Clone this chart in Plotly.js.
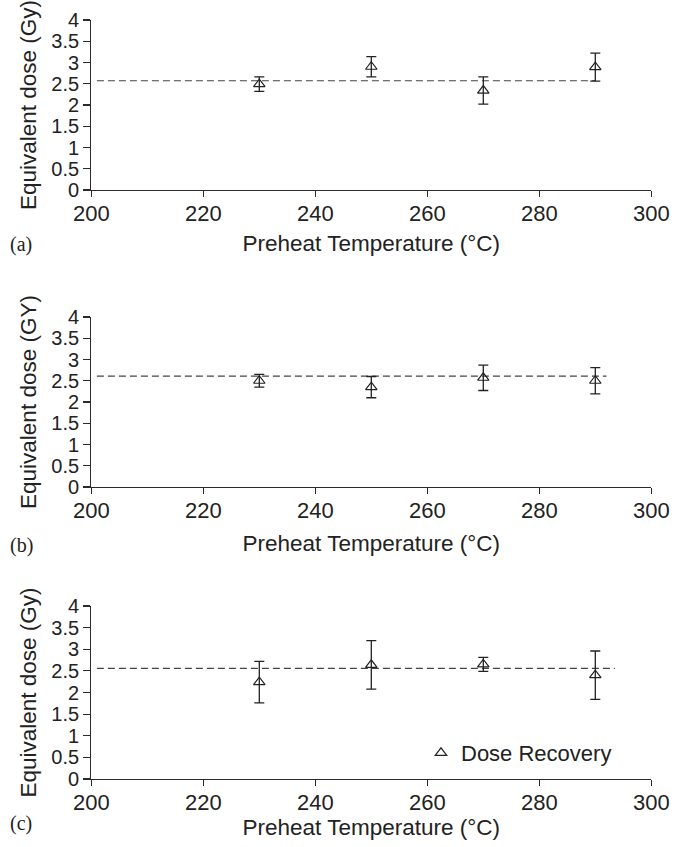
<!DOCTYPE html>
<html>
<head>
<meta charset="utf-8">
<script src="https://cdn.plot.ly/plotly-3.0.1.min.js"></script>
<style>
  html, body { margin: 0; padding: 0; background: #fff; }
  #chart { width: 687px; height: 847px; }
</style>
</head>
<body>
<div id="chart"></div>
<script>
// ---- Data ----
const temperatures = [230, 250, 270, 290];

const doseA = [2.49, 2.90, 2.34, 2.89];
const errA  = [0.17, 0.24, 0.32, 0.33];
const refA  = 2.57;
const refXA = [201, 290];

const doseB = [2.50, 2.35, 2.57, 2.50];
const errB  = [0.15, 0.25, 0.30, 0.31];
const refB  = 2.61;
const refXB = [201, 292];

const doseC = [2.24, 2.64, 2.65, 2.40];
const errC  = [0.48, 0.56, 0.16, 0.56];
const refC  = 2.56;
const refXC = [201, 293.5];

const panelLabels = ['(a)', '(b)', '(c)'];
const yTitles = ['Equivalent dose (Gy)', 'Equivalent dose (GY)', 'Equivalent dose (Gy)'];
const xTitle = 'Preheat Temperature (°C)';
const seriesName = 'Dose Recovery';

// ---- Styling ----
const W = 687, H = 847;
const axisColor = '#2b2b2b';
const font = 'Arial, "Liberation Sans", Helvetica, sans-serif';
const xDom = [91.3 / W, 651.3 / W];
const panelsPx = [[20, 190], [317, 487], [606, 779]]; // top, bottom in px
const yDoms = panelsPx.map(p => [1 - p[1] / H, 1 - p[0] / H]);
const xStandoffs = [10, 13, 0];
const labelY = [245, 545, 823];

const datasets = [
  {dose: doseA, err: errA, ref: refA, refX: refXA},
  {dose: doseB, err: errB, ref: refB, refX: refXB},
  {dose: doseC, err: errC, ref: refC, refX: refXC}
];

const traces = [];
datasets.forEach((d, i) => {
  const xa = i === 0 ? 'x' : 'x' + (i + 1);
  const ya = i === 0 ? 'y' : 'y' + (i + 1);
  traces.push({
    type: 'scatter', mode: 'lines',
    x: d.refX, y: d.refX.map(() => d.ref),
    xaxis: xa, yaxis: ya,
    line: {color: '#444', width: 1.2, dash: '7px,4px'},
    showlegend: false, hoverinfo: 'skip'
  });
  traces.push({
    type: 'scatter', mode: 'markers',
    name: seriesName,
    x: temperatures, y: d.dose,
    xaxis: xa, yaxis: ya,
    marker: {symbol: 'triangle-up-open', size: 10, color: '#222', line: {width: 1.2, color: '#222'}},
    error_y: {type: 'data', array: d.err, visible: true, color: '#222', thickness: 1.3, width: 5},
    showlegend: i === 2
  });
});

const layout = {
  width: W, height: H,
  margin: {l: 0, r: 0, t: 0, b: 0},
  paper_bgcolor: '#fff', plot_bgcolor: '#fff',
  font: {family: font, color: '#222', size: 22},
  showlegend: true,
  legend: {
    x: 421 / W, y: 1 - 753 / H, xanchor: 'left', yanchor: 'middle',
    font: {family: font, size: 22, color: '#222'},
    bgcolor: 'rgba(0,0,0,0)', borderwidth: 0
  },
  annotations: panelLabels.map((t, i) => ({
    text: t, xref: 'paper', yref: 'paper',
    x: 21 / W, y: 1 - labelY[i] / H,
    xanchor: 'center', yanchor: 'middle', showarrow: false,
    font: {family: '"Liberation Serif", "Times New Roman", serif', size: 20, color: '#222'}
  }))
};

for (let i = 0; i < 3; i++) {
  const sfx = i === 0 ? '' : String(i + 1);
  layout['xaxis' + sfx] = {
    domain: xDom, anchor: 'y' + sfx, range: [200, 300],
    tickvals: [200, 220, 240, 260, 280, 300],
    ticks: 'outside', ticklen: 6, tickwidth: 1.2, tickcolor: axisColor,
    ticklabelstandoff: -3,
    showline: true, linecolor: axisColor, linewidth: 1.2,
    showgrid: false, zeroline: false,
    tickfont: {family: font, size: 22, color: '#222'},
    title: {text: xTitle, font: {family: font, size: 22.5, color: '#222'}, standoff: xStandoffs[i]}
  };
  layout['yaxis' + sfx] = {
    domain: yDoms[i], anchor: 'x' + sfx, range: [0, 4],
    tickvals: [0, 0.5, 1, 1.5, 2, 2.5, 3, 3.5, 4],
    ticktext: ['0', '0.5', '1', '1.5', '2', '2.5', '3', '3.5', '4'],
    ticks: 'outside', ticklen: 7, tickwidth: 1.2, tickcolor: axisColor,
    showline: true, linecolor: axisColor, linewidth: 1.2,
    showgrid: false, zeroline: false,
    tickfont: {family: font, size: 20, color: '#222'},
    title: {text: yTitles[i], font: {family: font, size: 22.5, color: '#222'}, standoff: 8}
  };
}

Plotly.newPlot('chart', traces, layout, {displayModeBar: false, staticPlot: true});
</script>
</body>
</html>
